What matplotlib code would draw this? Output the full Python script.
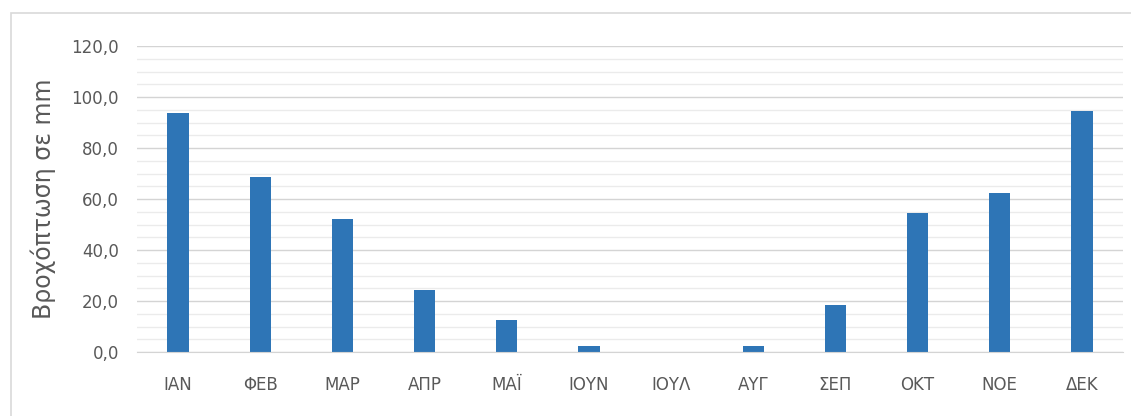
import matplotlib
matplotlib.use("Agg")
import matplotlib.pyplot as plt
from matplotlib.patches import Rectangle
from matplotlib.ticker import MultipleLocator, FuncFormatter

months = ["ΙΑΝ", "ΦΕΒ", "ΜΑΡ", "ΑΠΡ", "ΜΑΪ", "ΙΟΥΝ", "ΙΟΥΛ", "ΑΥΓ", "ΣΕΠ", "ΟΚΤ", "ΝΟΕ", "ΔΕΚ"]
rain = [93.6, 68.5, 52.0, 24.5, 12.7, 2.4, 0.0, 2.4, 18.3, 54.5, 62.2, 94.5]
ylabel = "Βροχόπτωση σε mm"

plt.rcParams['font.family'] = ['DejaVu Sans']

fig = plt.figure(figsize=(11.31, 4.16), dpi=100)
ax = fig.add_axes([137/1131, 1-352/416, (1123-137)/1131, (352-46)/416])

x = list(range(len(months)))
ax.bar(x, rain, width=0.26, color="#2e75b6", zorder=3)
ax.set_xlim(-0.5, len(months)-0.5)
ax.set_ylim(0, 120)
ax.yaxis.set_major_locator(MultipleLocator(20))
ax.yaxis.set_minor_locator(MultipleLocator(5))
ax.yaxis.set_major_formatter(FuncFormatter(lambda v, p: f"{v:.1f}".replace(".", ",")))
ax.grid(axis="y", which="major", color="#d4d4d4", linewidth=1.0, zorder=0)
ax.grid(axis="y", which="minor", color="#ebebeb", linewidth=1.0, zorder=0)
ax.set_xticks(x)
ax.set_xticklabels(months)
for s in ["top", "right", "left"]:
    ax.spines[s].set_visible(False)
ax.spines["bottom"].set_color("#d4d4d4")
ax.spines["bottom"].set_zorder(4)
ax.tick_params(axis="both", which="both", length=0, colors="#595959", labelsize=12)
ax.tick_params(axis="y", pad=13)
ax.tick_params(axis="x", pad=17)
ax.set_ylabel(ylabel, fontsize=17, color="#595959", labelpad=11)

fig.patches.append(Rectangle((11/1131, -0.1), 1.2, 1.1 - 13/416, transform=fig.transFigure,
                             fill=False, edgecolor="#d9d9d9", linewidth=1.2))

fig.savefig("out.png", dpi=100, facecolor="white")
